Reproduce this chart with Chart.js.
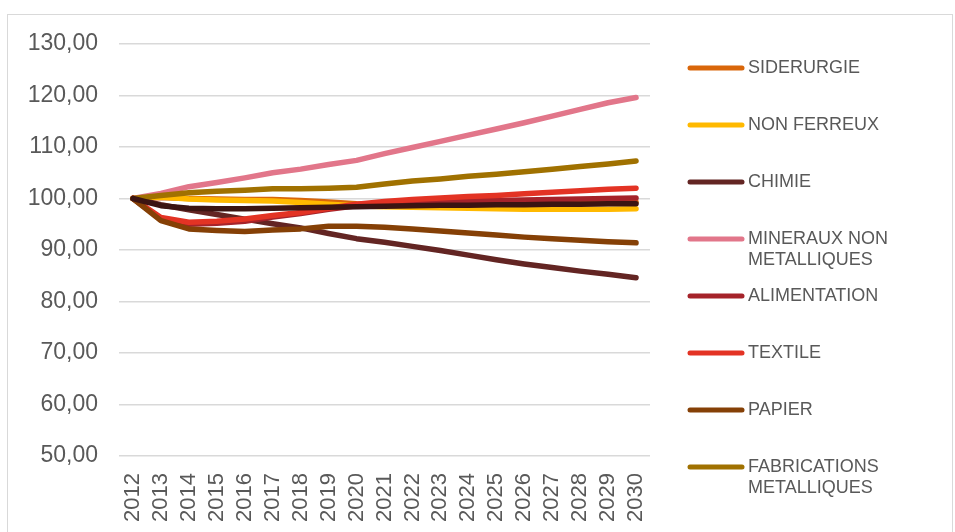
<!DOCTYPE html>
<html>
<head>
<meta charset="utf-8">
<script src="https://cdn.jsdelivr.net/npm/chart.js@4.4.1/dist/chart.umd.min.js"></script>
<style>
  body { margin: 0; background: #fff; }
  #frame { position: absolute; left: 7px; top: 14px; width: 944px; height: 600px; border: 1px solid #d9d9d9; }
  #wrap { position: absolute; left: 0; top: 0; width: 955px; height: 532px; }
</style>
</head>
<body>
<div id="frame"></div>
<div id="wrap"><canvas id="line-chart" width="955" height="532"></canvas></div>
<script>
// years and index series (base 100 in 2012)
var years = ['2012','2013','2014','2015','2016','2017','2018','2019','2020','2021','2022','2023','2024','2025','2026','2027','2028','2029','2030'];

var siderurgie   = [100, 100.2, 100.0, 99.9, 99.8, 99.8, 99.6, 99.3, 99.0, 98.9, 98.9, 99.0, 99.0, 99.1, 99.1, 99.2, 99.2, 99.3, 99.3];
var nonFerreux   = [100, 100.3, 99.9, 99.7, 99.6, 99.5, 99.2, 98.9, 98.6, 98.4, 98.3, 98.2, 98.1, 98.0, 97.9, 97.9, 97.9, 97.9, 98.0];
var chimie       = [100, 98.8, 97.8, 96.9, 96.0, 95.1, 94.3, 93.2, 92.2, 91.5, 90.7, 89.9, 89.0, 88.1, 87.3, 86.6, 85.9, 85.3, 84.6];
var mineraux     = [100, 101.0, 102.3, 103.1, 104.0, 105.0, 105.7, 106.6, 107.4, 108.7, 109.9, 111.1, 112.3, 113.5, 114.7, 116.0, 117.3, 118.6, 119.6];
var alimentation = [100, 96.0, 95.0, 95.2, 95.6, 96.4, 97.1, 97.9, 98.6, 99.0, 99.3, 99.4, 99.5, 99.6, 99.7, 99.8, 99.9, 100.0, 100.1];
var textile      = [100, 96.3, 95.4, 95.6, 96.0, 96.7, 97.3, 98.1, 98.9, 99.4, 99.8, 100.1, 100.4, 100.6, 100.9, 101.2, 101.5, 101.8, 102.0];
var papier       = [100, 95.7, 94.1, 93.8, 93.6, 93.9, 94.1, 94.6, 94.6, 94.4, 94.1, 93.7, 93.3, 92.9, 92.5, 92.2, 91.9, 91.6, 91.4];
var fabrications = [100, 100.6, 101.1, 101.4, 101.6, 101.9, 101.9, 102.0, 102.2, 102.8, 103.4, 103.8, 104.3, 104.7, 105.2, 105.7, 106.2, 106.7, 107.3];
var ensemble     = [100, 98.6, 98.1, 98.0, 98.0, 98.1, 98.2, 98.3, 98.4, 98.5, 98.6, 98.7, 98.7, 98.8, 98.8, 98.9, 98.9, 99.0, 99.0];

var yTicks = [50, 60, 70, 80, 90, 100, 110, 120, 130];

var series = [
  { name: ['SIDERURGIE'], data: siderurgie, color: '#d9660a' },
  { name: ['NON FERREUX'], data: nonFerreux, color: '#ffb900' },
  { name: ['CHIMIE'], data: chimie, color: '#632523' },
  { name: ['MINERAUX NON', 'METALLIQUES'], data: mineraux, color: '#e2768a' },
  { name: ['ALIMENTATION'], data: alimentation, color: '#a5232a' },
  { name: ['TEXTILE'], data: textile, color: '#e33324' },
  { name: ['PAPIER'], data: papier, color: '#854006' },
  { name: ['FABRICATIONS', 'METALLIQUES'], data: fabrications, color: '#a07100' },
  { name: ['ENSEMBLE'], data: ensemble, color: '#3b1412', noLegend: true }
];

var grey = '#595959';

// legend drawn at the right, one row every 57px
var sideLegend = {
  id: 'sideLegend',
  afterDraw: function(chart) {
    var ctx = chart.ctx;
    ctx.save();
    ctx.font = '18px "Liberation Sans", Arial, sans-serif';
    ctx.textBaseline = 'middle';
    ctx.fillStyle = grey;
    series.forEach(function(s, i) {
      if (s.noLegend) return;
      var y = 68 + i * 57;
      ctx.strokeStyle = s.color;
      ctx.lineWidth = 5;
      ctx.lineCap = 'round';
      ctx.beginPath();
      ctx.moveTo(690, y);
      ctx.lineTo(742, y);
      ctx.stroke();
      s.name.forEach(function(line, j) {
        ctx.fillText(line, 748, y + j * 21);
      });
    });
    ctx.restore();
  }
};

new Chart(document.getElementById('line-chart'), {
  type: 'line',
  data: {
    labels: years,
    datasets: series.map(function(s, i) {
      return {
        label: s.name.join(' '),
        data: s.data,
        borderColor: s.color,
        backgroundColor: s.color,
        borderWidth: 5.5,
        borderCapStyle: 'round',
        borderJoinStyle: 'round',
        pointRadius: 0,
        tension: 0,
        fill: false,
        order: series.length - i
      };
    })
  },
  options: {
    responsive: false,
    animation: false,
    layout: { padding: { top: 44, right: 305, bottom: 0, left: 0 } },
    plugins: {
      legend: { display: false },
      tooltip: { enabled: false }
    },
    scales: {
      x: {
        offset: true,
        grid: { display: false },
        border: { display: false },
        ticks: {
          autoSkip: false,
          minRotation: 90,
          maxRotation: 90,
          padding: 9,
          color: grey,
          font: { family: '"Liberation Sans", Arial, sans-serif', size: 22 }
        },
        afterFit: function(scale) { scale.height = 76; }
      },
      y: {
        min: yTicks[0],
        max: yTicks[yTicks.length - 1],
        afterBuildTicks: function(scale) {
          scale.ticks = yTicks.map(function(v) { return { value: v }; });
        },
        grid: { color: '#d9d9d9', lineWidth: 1.5, drawTicks: false },
        border: { display: false },
        ticks: {
          padding: 21,
          color: grey,
          font: { family: '"Liberation Sans", Arial, sans-serif', size: 23 },
          callback: function(v) { return v.toFixed(2).replace('.', ','); }
        },
        afterFit: function(scale) { scale.width = 119; }
      }
    }
  },
  plugins: [sideLegend]
});
</script>
</body>
</html>
